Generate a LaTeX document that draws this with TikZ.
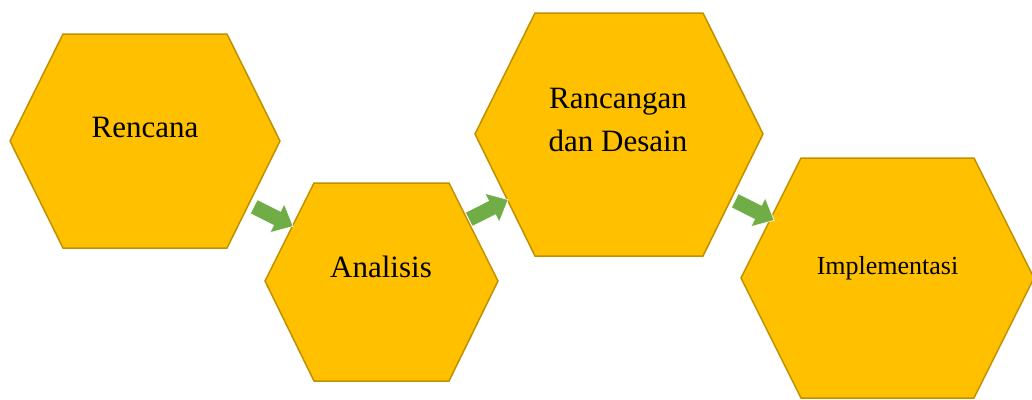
\documentclass[tikz,border=0pt]{standalone}
\usepackage{fontspec}
\setmainfont{Liberation Serif}
\definecolor{hexfill}{HTML}{FFC000}
\definecolor{hexline}{HTML}{BF9000}
\definecolor{arrowgreen}{HTML}{70AD47}
\begin{document}
\begin{tikzpicture}[x=1pt,y=-1pt,
  hex/.style={fill=hexfill,draw=hexline,line width=1.5pt,line join=miter},
  label/.style={inner sep=0pt,anchor=base,text=black},
  blockarrowstyle/.style={fill=arrowgreen,draw=white,line width=0.6pt,line join=miter},
  blockarrow/.pic={
    \path[blockarrowstyle] (-22,-7.8) -- (4,-7.8) -- (4,-16) -- (22,0) -- (4,16) -- (4,7.8) -- (-22,7.8) -- cycle;
  }]
\useasboundingbox (0,0) rectangle (1032,399);
% hexagons
\draw[hex] (63,34) -- (227,34) -- (280,141) -- (227,248) -- (63,248) -- (10,141) -- cycle;
\draw[hex] (314,183) -- (449,183) -- (498,281) -- (449,381) -- (314,381) -- (265,281) -- cycle;
\draw[hex] (535,13) -- (703,13) -- (763,134) -- (703,256) -- (535,256) -- (475,134) -- cycle;
\draw[hex] (801,158) -- (974,158) -- (1034,278) -- (974,398) -- (801,398) -- (741,278) -- cycle;
% labels
\node[label,font=\fontsize{31}{31}\selectfont] (rencana) at (145,137) {Rencana};
\node[label,font=\fontsize{31}{31}\selectfont] (analisis) at (381,277) {Analisis};
\node[label,font=\fontsize{31}{31}\selectfont] (rancangan) at (618,108) {Rancangan};
\node[label,font=\fontsize{31}{31}\selectfont] (desain) at (618,151) {dan Desain};
\node[label,font=\fontsize{26}{26}\selectfont] (impl) at (887.5,274) {Implementasi};
% arrows
\pic[rotate=-26.6] (a1) at (273.5,216.5) {blockarrow};
\pic[rotate=26.6] (a2) at (488.5,209.5) {blockarrow};
\pic[rotate=-26.6] (a3) at (754.5,210.5) {blockarrow};
\end{tikzpicture}
\end{document}
